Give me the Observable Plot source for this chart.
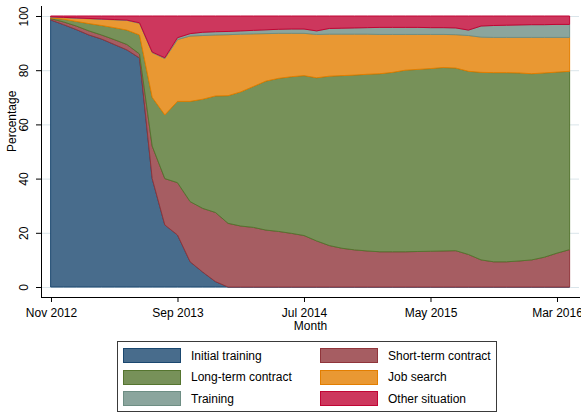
<!DOCTYPE html>
<html><head><meta charset="utf-8">
<script src="https://cdn.jsdelivr.net/npm/d3@7"></script>
<script src="https://cdn.jsdelivr.net/npm/@observablehq/plot@0.6"></script>
<style>
body{margin:0;background:#fff;font-family:"Liberation Sans",Arial,sans-serif;}
#wrap{position:relative;width:581px;height:413px;overflow:hidden;}
#legend{position:absolute;left:117px;top:341px;width:380px;height:71px;border:1.3px solid #3a3a3a;box-sizing:border-box;}
.item{position:absolute;display:flex;align-items:center;font-size:12px;color:#000;height:16px;white-space:nowrap;}
.sw{width:58px;height:15px;box-sizing:border-box;border:1.5px solid;margin-right:10px;}
</style></head><body><div id="wrap"></div>
<script>
const months = ["2012-11","2012-12",
 "2013-01","2013-02","2013-03","2013-04","2013-05","2013-06","2013-07","2013-08","2013-09","2013-10","2013-11","2013-12",
 "2014-01","2014-02","2014-03","2014-04","2014-05","2014-06","2014-07","2014-08","2014-09","2014-10","2014-11","2014-12",
 "2015-01","2015-02","2015-03","2015-04","2015-05","2015-06","2015-07","2015-08","2015-09","2015-10","2015-11","2015-12",
 "2016-01","2016-02","2016-03","2016-04"];
const series = ["Initial training","Short-term contract","Long-term contract","Job search","Training","Other situation"];
const colors = ["#1a476f","#90353b","#55752f","#e37e00","#6e8e84","#c10534"];
const tickMonths = ["2012-11","2013-09","2014-07","2015-05","2016-03"];
const tickLabels = ["Nov 2012","Sep 2013","Jul 2014","May 2015","Mar 2016"];
const yTicks = [0,20,40,60,80,100];

const initialTraining = [98.5,96.8,95,93,91.5,89.5,87.5,84.5,40,22.9,19.2,9.3,5.5,2,0,0,0,0,0,0,0,0,0,0,0,0,0,0,0,0,0,0,0,0,0,0,0,0,0,0,0,0];
const shortTerm = [0.5,1.0,1.3,1.5,1.5,1.8,2.0,1.5,12,17.1,19.3,22.2,23.5,25.5,23.5,22.5,22,21,20.5,19.8,19,17,15.3,14.3,13.7,13.3,13,13,13,13.1,13.2,13.3,13.4,12,10,9.3,9.3,9.6,10,11,12.5,13.8];
const longTerm = [0.3,1.0,1.7,2.7,3.5,4.4,5.3,7.0,18,23.5,30,37,40.3,43,47.1,49.5,52,55,56.5,57.8,59,60.2,62.5,63.7,64.5,65.2,65.7,66.2,67,67.2,67.4,67.7,67.4,67.6,69.2,69.8,69.8,69.4,68.7,68,66.8,65.8];
const jobSearch = [0.3,0.6,1.2,1.8,2.3,2.9,3.6,4.3,16.5,20.8,22.8,24.1,23.5,22.5,22.5,21.3,19.4,17.5,16.6,16,15.6,16,15.5,15.3,15.1,14.8,14.5,14,13.2,12.9,12.6,12.2,12.3,13.2,13,13,13,13.1,13.4,13.1,12.8,12.5];
const training = [0.1,0.1,0.1,0.1,0.1,0.1,0.1,0.2,0.2,0.3,0.7,0.9,1.2,1.2,1.2,1.2,1.3,1.4,1.5,1.6,1.6,1.3,2.1,2.2,2.3,2.4,2.6,2.6,2.6,2.6,2.5,2.5,2.5,2.0,4.1,4.4,4.5,4.6,4.7,4.7,4.8,4.8];
const otherSituation = [0.3,0.5,0.7,0.9,1.1,1.3,1.5,2.5,13.3,15.4,8,6.5,6,5.8,5.7,5.5,5.3,5.1,4.9,4.8,4.8,5.5,4.6,4.5,4.4,4.3,4.2,4.2,4.2,4.2,4.3,4.3,4.4,5.2,3.7,3.5,3.4,3.3,3.2,3.2,3.1,3.1];

const values = [initialTraining, shortTerm, longTerm, jobSearch, training, otherSituation];
const fills = colors.map(c => d3.interpolateRgb(c, "#fff")(0.2));
const strokeOf = Object.fromEntries(series.map((s,k)=>[s, colors[k]]));
const fillOf = Object.fromEntries(series.map((s,k)=>[s, fills[k]]));

const data = [];
months.forEach((m, i) => series.forEach((s, k) => data.push({i, month: m, series: s, value: values[k][i]})));
const xTicks = tickMonths.map(m => months.indexOf(m));

const plot = Plot.plot({
  width: 581, height: 335,
  marginLeft: 41, marginRight: 2, marginTop: 6, marginBottom: 38,
  style: {fontFamily: "'Liberation Sans', Arial, sans-serif", fontSize: "12px", color: "#000", background: "#fff", overflow: "visible"},
  x: {type: "linear", domain: [-0.79, 41.74]},
  y: {domain: [-3.69, 103.69]},
  marks: [
    Plot.gridY(yTicks, {stroke: "#dae5ea", strokeOpacity: 1, strokeWidth: 1}),
    Plot.areaY(data, {x: "i", y: "value", z: "series", order: series,
      fill: d => fillOf[d.series], stroke: d => strokeOf[d.series], strokeWidth: 1, curve: "linear"}),
    Plot.frame({anchor: "left", stroke: "#000"}),
    Plot.frame({anchor: "bottom", stroke: "#000"}),
    Plot.axisY(yTicks, {tickSize: 5, tickRotate: -90, tickPadding: 9, label: null, stroke: "#000"}),
    Plot.axisX(xTicks, {tickSize: 5, tickPadding: 6, tickFormat: d => tickLabels[xTicks.indexOf(d)], label: null, stroke: "#000"}),
    Plot.text(["Percentage"], {frameAnchor: "left", rotate: -90, dx: -26, lineAnchor: "bottom", text: d => d}),
    Plot.text(["Month"], {frameAnchor: "bottom", dy: 23.8, lineAnchor: "top", text: d => d})
  ]
});
const wrap = document.getElementById("wrap");
wrap.appendChild(plot);

const legend = document.createElement("div");
legend.id = "legend";
const colX = [5, 202];
const rowY = [5.5, 27, 48.5];
series.forEach((s, k) => {
  const it = document.createElement("div");
  it.className = "item";
  it.style.left = colX[k % 2] + "px";
  it.style.top = rowY[Math.floor(k / 2)] + "px";
  const sw = document.createElement("div");
  sw.className = "sw";
  sw.style.background = fills[k];
  sw.style.borderColor = colors[k];
  const tx = document.createElement("span");
  tx.textContent = s;
  it.appendChild(sw); it.appendChild(tx);
  legend.appendChild(it);
});
wrap.appendChild(legend);
</script></body></html>
